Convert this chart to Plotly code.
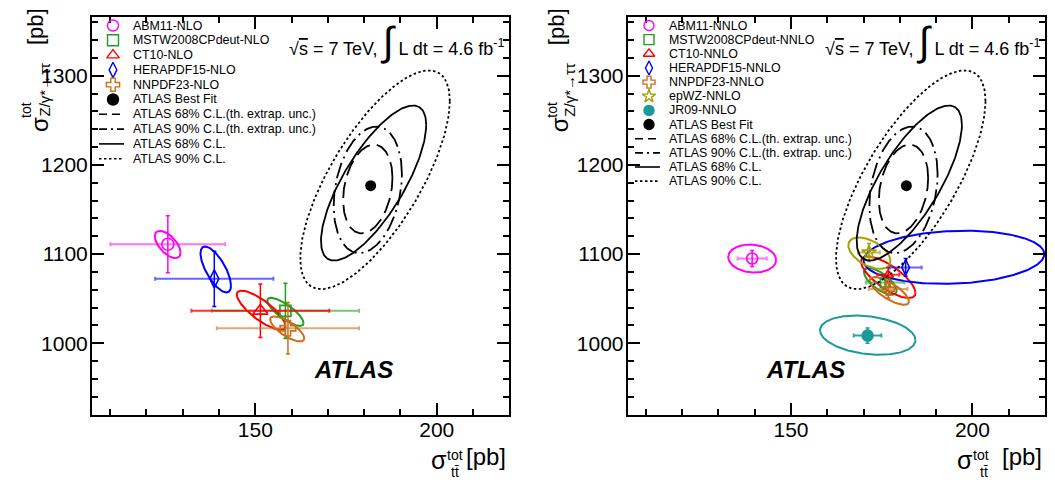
import numpy as np
import plotly.graph_objects as go

W, H = 1055, 489
FONT = "Liberation Sans, Arial, sans-serif"

# ---------------- data ----------------
X_RANGE = [105, 220]
Y_RANGE = [920, 1366]
X_MAJOR, X_MINOR = 50, 10
Y_MAJOR, Y_MINOR = 100, 20

atlas_best = [181.8, 1176.7]
atlas_labels = ["ATLAS 68% C.L.(th. extrap. unc.)", "ATLAS 90% C.L.(th. extrap. unc.)",
                "ATLAS 68% C.L.", "ATLAS 90% C.L."]
atlas_cx = [181.0, 181.0, 182.6, 183.0]
atlas_cy = [1173.0, 1172.0, 1179.7, 1183.4]
atlas_sx = [6.8, 9.4, 14.5, 20.6]
atlas_sy = [49.8, 71.0, 87.0, 122.7]
atlas_rho = [0.25, 0.25, 0.75, 0.72]

nlo_names = ["ABM11-NLO", "MSTW2008CPdeut-NLO", "CT10-NLO", "HERAPDF15-NLO", "NNPDF23-NLO"]
nlo_x = [125.9, 158.3, 151.4, 138.7, 159.0]
nlo_y = [1111.0, 1036.3, 1036.3, 1072.2, 1016.8]
nlo_xerr = [15.8, 20.3, 19.0, 16.3, 19.6]
nlo_yerr = [32.0, 31.0, 30.0, 31.0, 29.0]
nlo_ecx = [125.85, 158.3, 151.6, 139.1, 158.8]
nlo_ecy = [1110.8, 1035.2, 1037.0, 1082.7, 1016.0]
nlo_esx = [3.55, 5.0, 6.7, 4.2, 4.7]
nlo_esy = [15.3, 15.8, 22.0, 25.8, 14.1]
nlo_erho = [-0.6, -0.8, -0.8, -0.7, -0.75]

nnlo_names = ["ABM11-NNLO", "MSTW2008CPdeut-NNLO", "CT10-NNLO", "HERAPDF15-NNLO",
              "NNPDF23-NNLO", "epWZ-NNLO", "JR09-NNLO"]
nnlo_x = [139.3, 175.9, 176.8, 181.6, 176.8, 171.5, 171.1]
nnlo_y = [1095.0, 1068.0, 1076.7, 1085.0, 1060.7, 1101.8, 1008.5]
nnlo_xerr = [4.0, 5.3, 3.0, 4.4, 5.3, 3.0, 3.8]
nnlo_yerr = [9.0, 7.5, 8.0, 10.0, 10.0, 10.0, 8.5]
nnlo_ecx = [139.3, 174.6, 176.8, 194.9, 177.1, 171.6, 171.15]
nnlo_ecy = [1095.0, 1069.3, 1074.0, 1096.4, 1058.6, 1101.0, 1009.0]
nnlo_esx = [6.6, 4.5, 7.5, 24.9, 5.4, 5.8, 13.15]
nnlo_esy = [15.7, 15.0, 23.3, 29.8, 15.6, 17.6, 22.0]
nnlo_erho = [-0.1, -0.7, -0.75, 0.12, -0.75, -0.5, -0.25]

# ---------------- styles ----------------
nlo_colors = ["#ff00ff", "#1f9f1f", "#ff0000", "#0000ff", "#cc6e1a"]
nlo_light = ["rgba(255,0,255,0.55)", "rgba(31,159,31,0.6)", "rgba(255,0,0,0.8)",
             "rgba(0,0,255,0.6)", "rgba(204,110,26,0.6)"]
nlo_symbols = ["circle-open", "square-open", "triangle-up-open", "diamond-tall-open", "cross-open"]
nnlo_colors = nlo_colors + ["#a3a300", "#1a9a9a"]
nnlo_light = nlo_light + ["rgba(163,163,0,0.7)", "rgba(26,154,154,0.9)"]
nnlo_symbols = nlo_symbols + ["star-open", "circle"]

atlas_dash_curve = ["16px,7px", "16px,5px,2px,5px", "solid", "2.5px,2.5px"]
atlas_dash_key = ["8px,5px", "8px,4px,2px,4px", "solid", "2.5px,2.5px"]

# pixel geometry
PX_L = [92.0, 509.3]
PX_R = [627.7, 1045.0]
PX_T, PX_B = 17.0, 414.5
DX = PX_R[0] - PX_L[0]


def px(x):
    return x / W


def py(y):
    return 1 - y / H


def ellipse(cx, cy, sx, sy, rho, n=240):
    t = np.linspace(0, 2 * np.pi, n)
    x = cx + sx * np.cos(t)
    y = cy + sy * (rho * np.cos(t) + np.sqrt(1 - rho ** 2) * np.sin(t))
    return x, y


fig = go.Figure()


def add_panel(xa, ya, names, xs, ys, xe, ye, ecx, ecy, esx, esy, erho, colors, light, symbols, msize):
    for i in range(len(names)):
        ex, ey = ellipse(ecx[i], ecy[i], esx[i], esy[i], erho[i])
        fig.add_trace(go.Scatter(x=ex, y=ey, mode="lines", xaxis=xa, yaxis=ya,
                                 line=dict(color=colors[i], width=2), hoverinfo="skip",
                                 showlegend=False))
    for i in range(len(names)):
        fig.add_trace(go.Scatter(
            x=[xs[i]], y=[ys[i]], mode="markers", xaxis=xa, yaxis=ya, name=names[i],
            marker=dict(symbol=symbols[i], size=msize[i], color=colors[i],
                        line=dict(color=colors[i], width=1.6)),
            error_x=dict(type="data", array=[xe[i]], color=light[i], thickness=2, width=2),
            error_y=dict(type="data", array=[ye[i]], color=colors[i], thickness=1.5, width=2),
            showlegend=False))
    for j in range(len(atlas_labels)):
        ex, ey = ellipse(atlas_cx[j], atlas_cy[j], atlas_sx[j], atlas_sy[j], atlas_rho[j])
        fig.add_trace(go.Scatter(x=ex, y=ey, mode="lines", xaxis=xa, yaxis=ya,
                                 line=dict(color="black", width=1.8, dash=atlas_dash_curve[j]),
                                 hoverinfo="skip", showlegend=False))
    fig.add_trace(go.Scatter(x=[atlas_best[0]], y=[atlas_best[1]], mode="markers", xaxis=xa, yaxis=ya,
                             marker=dict(symbol="circle", size=11, color="black"), showlegend=False))


add_panel("x", "y", nlo_names, nlo_x, nlo_y, nlo_xerr, nlo_yerr, nlo_ecx, nlo_ecy, nlo_esx,
          nlo_esy, nlo_erho, nlo_colors, nlo_light, nlo_symbols, [12, 11, 13, 13, 13])
add_panel("x2", "y2", nnlo_names, nnlo_x, nnlo_y, nnlo_xerr, nnlo_yerr, nnlo_ecx, nnlo_ecy, nnlo_esx,
          nnlo_esy, nnlo_erho, nnlo_colors, nnlo_light, nnlo_symbols, [11, 9, 9, 11, 10, 11, 11])

annotations = []


def add_legend(names, colors, symbols, mx, tx, row0, step, lx0, lx1, fsize, ksize):
    rows = [row0 + k * step for k in range(len(names) + 1 + len(atlas_labels))]
    keys_x, keys_y, keys_sym, keys_col = [], [], [], []
    for i, nm in enumerate(names):
        keys_x.append(mx); keys_y.append(rows[i]); keys_sym.append(symbols[i]); keys_col.append(colors[i])
    keys_x.append(mx); keys_y.append(rows[len(names)]); keys_sym.append("circle"); keys_col.append("black")
    for k in range(len(keys_x)):
        fig.add_trace(go.Scatter(x=[keys_x[k]], y=[keys_y[k]], mode="markers", xaxis="x3", yaxis="y3",
                                 marker=dict(symbol=keys_sym[k], size=ksize, color=keys_col[k],
                                             line=dict(color=keys_col[k], width=1.4)),
                                 hoverinfo="skip", showlegend=False))
    labels = list(names) + ["ATLAS Best Fit"] + atlas_labels
    for k, lab in enumerate(labels):
        annotations.append(dict(x=px(tx), y=py(rows[k]), xref="paper", yref="paper", text=lab,
                                showarrow=False, xanchor="left", yanchor="middle",
                                font=dict(family=FONT, size=fsize, color="black")))
    for j in range(len(atlas_labels)):
        r = rows[len(names) + 1 + j]
        fig.add_trace(go.Scatter(x=[lx0, lx1], y=[r, r], mode="lines", xaxis="x3", yaxis="y3",
                                 line=dict(color="black", width=1.6, dash=atlas_dash_key[j]),
                                 hoverinfo="skip", showlegend=False))


add_legend(nlo_names, nlo_colors, nlo_symbols, 113, 131, 25.5, 14.8, 99, 124, 12.4, 11)
add_legend(nnlo_names, nnlo_colors, nnlo_symbols, 649, 667, 25.5, 14.15, 635, 660, 12.4, 10)

for off, right in [(0, PX_L[1]), (DX, PX_R[1])]:
    # energy / lumi label
    annotations.append(dict(
        x=px(right - 2), y=py(41), xref="paper", yref="paper", xanchor="right", yanchor="middle",
        text="√<span style='text-decoration:overline'>s</span> = 7 TeV, "
             "<span style='font-size:40px'>∫</span> L dt = 4.6 fb<sup>-1</sup>",
        showarrow=False, font=dict(family=FONT, size=18, color="black")))
    # ATLAS label
    annotations.append(dict(x=px(311.7 + off), y=py(385), xref="paper", yref="paper",
                            text="<b><i>ATLAS</i></b>", showarrow=False,
                            font=dict(family=FONT, size=24, color="black")))
    # x title pieces
    annotations += [
        dict(x=px(439 + off), y=py(476), text="σ", font=dict(family=FONT, size=25, color="black")),
        dict(x=px(455 + off), y=py(465), text="tot", font=dict(family=FONT, size=14, color="black")),
        dict(x=px(454.5 + off), y=py(482), text="tt̄", font=dict(family=FONT, size=14, color="black")),
        dict(x=px(508 + off), y=py(472), text="[pb]", xanchor="right",
             font=dict(family=FONT, size=24, color="black")),
    ]
    # y title pieces (rotated)
    annotations += [
        dict(x=px(24 + off), y=py(134), text="σ", yanchor="bottom", textangle=-90,
             font=dict(family=FONT, size=24, color="black")),
        dict(x=px(16 + off), y=py(120), text="tot", yanchor="bottom", textangle=-90,
             font=dict(family=FONT, size=14, color="black")),
        dict(x=px(34 + off), y=py(119), text="Z/γ*→ττ", yanchor="bottom", textangle=-90,
             font=dict(family=FONT, size=15, color="black")),
        dict(x=px(21 + off), y=py(6), text="[pb]", yanchor="top", textangle=-90,
             font=dict(family=FONT, size=22, color="black")),
    ]

for a in annotations:
    a.setdefault("xref", "paper")
    a.setdefault("yref", "paper")
    a.setdefault("showarrow", False)


def xaxis(dom):
    return dict(domain=dom, range=X_RANGE, tickmode="linear", tick0=0, dtick=X_MAJOR,
                ticks="inside", ticklen=12, tickwidth=1.5, tickcolor="black",
                minor=dict(dtick=X_MINOR, tick0=0, ticks="inside", ticklen=6, tickwidth=1.5,
                           tickcolor="black", showgrid=False),
                showline=True, linewidth=2, linecolor="black", mirror="ticks",
                showgrid=False, zeroline=False, ticklabelstandoff=-5,
                tickfont=dict(family=FONT, size=21, color="black"))


def yaxis(dom, anchor):
    return dict(domain=dom, range=Y_RANGE, tickmode="linear", tick0=0, dtick=Y_MAJOR, anchor=anchor,
                ticks="inside", ticklen=12, tickwidth=1.5, tickcolor="black",
                minor=dict(dtick=Y_MINOR, tick0=0, ticks="inside", ticklen=6, tickwidth=1.5,
                           tickcolor="black", showgrid=False),
                showline=True, linewidth=2, linecolor="black", mirror="ticks",
                showgrid=False, zeroline=False, ticklabelstandoff=-2,
                tickfont=dict(family=FONT, size=21, color="black"))


ydom = [py(PX_B), py(PX_T)]
fig.update_layout(
    width=W, height=H, margin=dict(l=0, r=0, t=0, b=0),
    paper_bgcolor="white", plot_bgcolor="rgba(0,0,0,0)",
    showlegend=False,
    xaxis=dict(xaxis([px(PX_L[0]), px(PX_L[1])]), anchor="y"),
    yaxis=yaxis(ydom, "x"),
    xaxis2=dict(xaxis([px(PX_R[0]), px(PX_R[1])]), anchor="y2"),
    yaxis2=yaxis(ydom, "x2"),
    xaxis3=dict(domain=[0, 1], range=[0, W], visible=False, anchor="y3", fixedrange=True),
    yaxis3=dict(domain=[0, 1], range=[H, 0], visible=False, anchor="x3", fixedrange=True),
    annotations=annotations,
)

fig.write_html("out.html")
